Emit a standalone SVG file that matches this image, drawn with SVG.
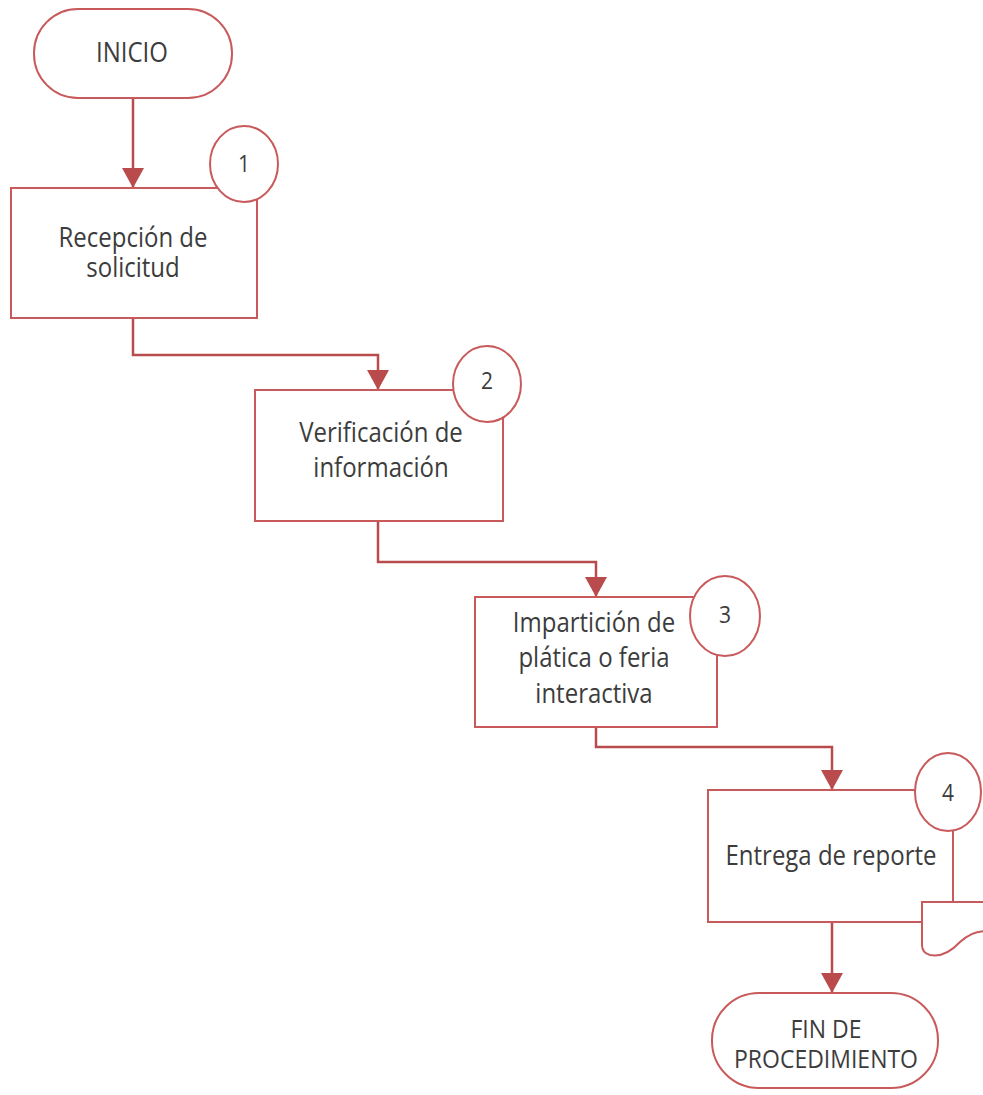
<svg xmlns="http://www.w3.org/2000/svg" width="983" height="1095" viewBox="0 0 983 1095">
<defs>
<style>
.shape{fill:#fff;stroke:#c85a5c;stroke-width:2}
.conn{fill:none;stroke:#b94b4c;stroke-width:2.5}
.t{font-family:"Open Sans","DejaVu Sans",sans-serif;font-size:24px;fill:#3c3c3c;text-anchor:middle}
.n{font-family:"Open Sans","DejaVu Sans",sans-serif;font-size:21px;fill:#3c3c3c;text-anchor:middle}
</style>
<marker id="arr" viewBox="0 0 20 22" refX="20" refY="11" markerWidth="20" markerHeight="22" markerUnits="userSpaceOnUse" orient="auto">
<path d="M0 0 L20 11 L0 22 Z" fill="#b94b4c"/>
</marker>
</defs>
<rect width="983" height="1095" fill="#fff"/>
<g id="connectors">
<path class="conn" d="M133 98 V188" marker-end="url(#arr)"/>
<path class="conn" d="M133 318 V355 H378 V390" marker-end="url(#arr)"/>
<path class="conn" d="M378 521 V562 H596 V597" marker-end="url(#arr)"/>
<path class="conn" d="M596 727 V747 H832 V790" marker-end="url(#arr)"/>
<path class="conn" d="M832 922 V993" marker-end="url(#arr)"/>
</g>
<g id="inicio">
<rect class="shape" x="34" y="9" width="198" height="89" rx="44" ry="44"/>
<text class="t" transform="translate(132 62) scale(1 1.12)"><tspan x="0" y="0">INICIO</tspan></text>
</g>
<g id="step1">
<rect class="shape" x="11" y="188" width="246" height="130"/>
<ellipse class="shape" cx="244" cy="164" rx="34" ry="38"/>
<text class="n" transform="translate(244 172) scale(1 1.12)">1</text>
<text class="t" transform="translate(133 247) scale(1 1.12)"><tspan x="0" y="0">Recepción de</tspan><tspan x="0" y="27">solicitud</tspan></text>
</g>
<g id="step2">
<rect class="shape" x="255" y="390" width="248" height="131"/>
<ellipse class="shape" cx="487" cy="384" rx="34" ry="38"/>
<text class="n" transform="translate(487 389) scale(1 1.12)">2</text>
<text class="t" transform="translate(381 442) scale(1 1.12)"><tspan x="0" y="0">Verificación de</tspan><tspan x="0" y="31">información</tspan></text>
</g>
<g id="step3">
<rect class="shape" x="475" y="597" width="242" height="130"/>
<ellipse class="shape" cx="725" cy="616" rx="35" ry="40"/>
<text class="n" transform="translate(725 623) scale(1 1.12)">3</text>
<text class="t" transform="translate(594 632) scale(1 1.12)"><tspan x="0" y="0">Impartición de</tspan><tspan x="0" y="31">plática o feria</tspan><tspan x="0" y="63">interactiva</tspan></text>
</g>
<g id="step4">
<rect class="shape" x="708" y="790" width="245" height="132"/>
<path class="shape" d="M922 902 H992 V932 Q975 928 960 942 Q945 958 930 955 Q922 953 922 945 Z"/>
<ellipse class="shape" cx="948" cy="792" rx="33" ry="39"/>
<text class="n" transform="translate(948 801) scale(1 1.12)">4</text>
<text class="t" transform="translate(831 865) scale(1 1.12)"><tspan x="0" y="0">Entrega de reporte</tspan></text>
</g>
<g id="fin">
<rect class="shape" x="712" y="993" width="226" height="95" rx="47" ry="47"/>
<text class="t" style="font-size:23px" transform="translate(826 1038) scale(1 1.12)"><tspan x="0" y="0">FIN DE</tspan><tspan x="0" y="27">PROCEDIMIENTO</tspan></text>
</g>
</svg>
